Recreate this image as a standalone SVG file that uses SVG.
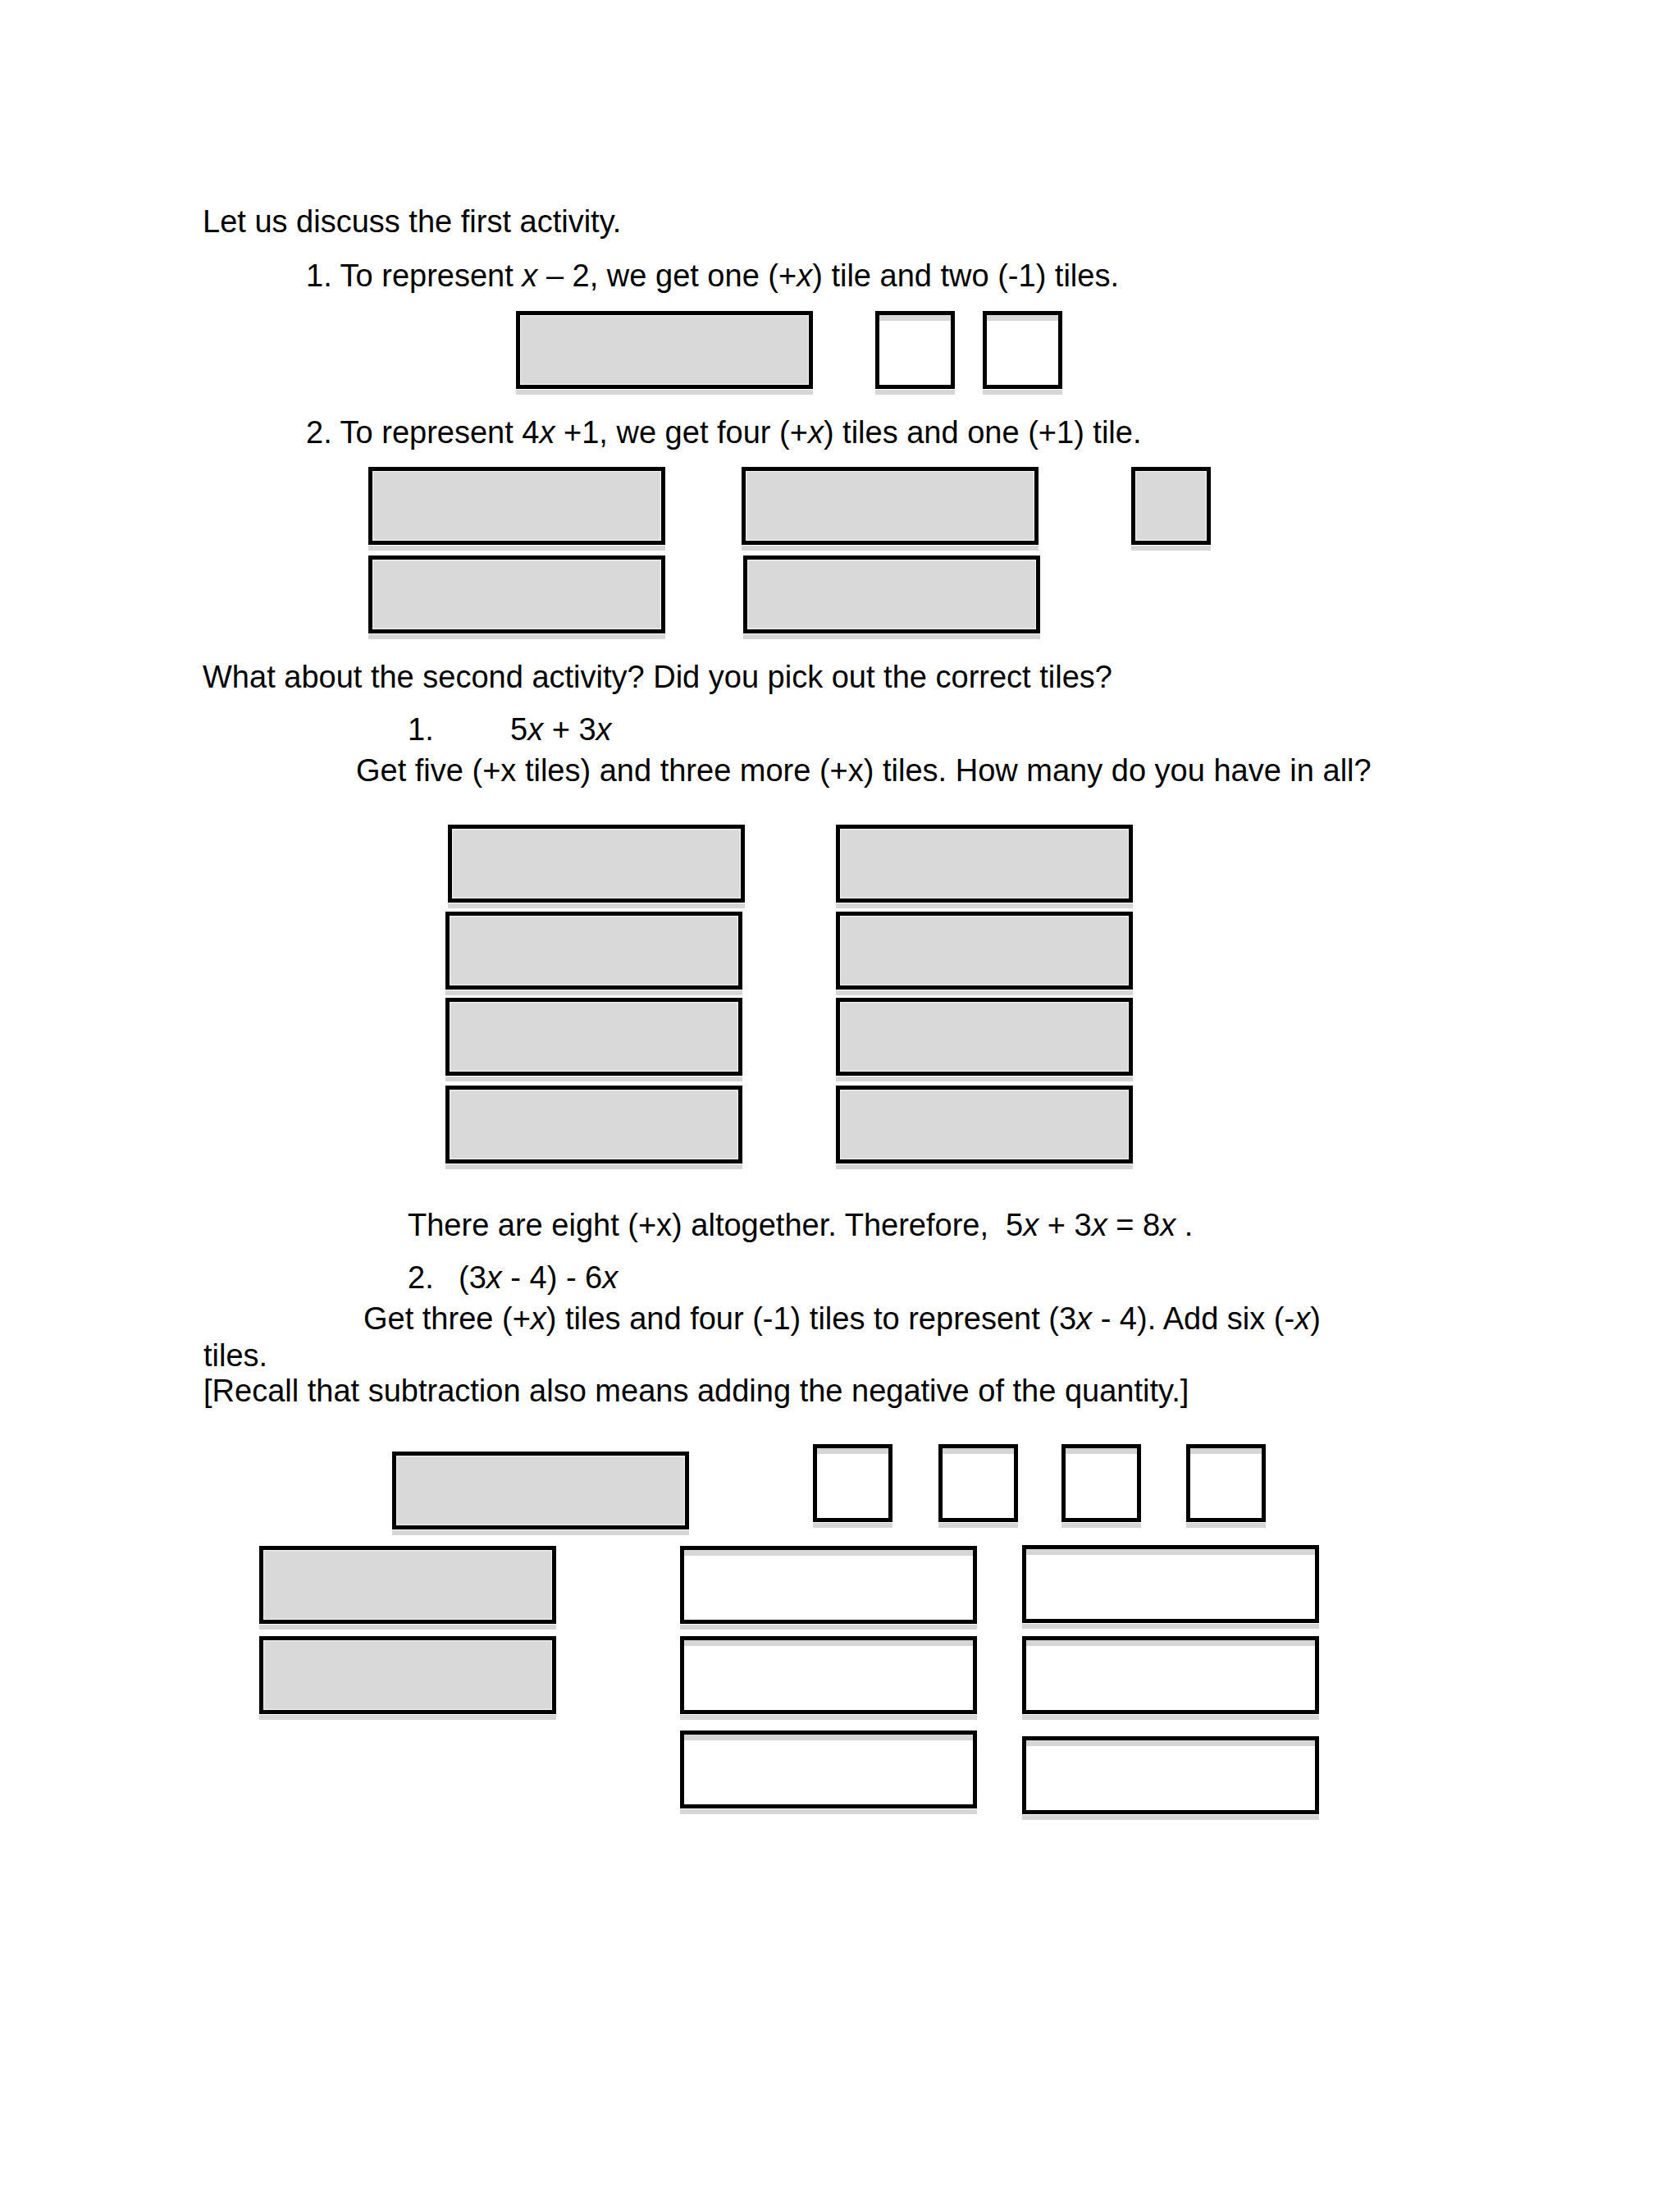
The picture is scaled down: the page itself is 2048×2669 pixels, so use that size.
<svg xmlns="http://www.w3.org/2000/svg" xmlns:xlink="http://www.w3.org/1999/xlink" width="2048" height="2669" viewBox="0 0 2048 2669">
<style>
  .t { font-family: "Liberation Sans", Arial, sans-serif; font-size: 38px; fill: #000; white-space: pre; }
  .i { font-style: italic; }
  .shadow { fill: #d6d6d6; }
  .gray { fill: #d9d9d9; stroke: #000; stroke-width: 5; }
  .white { fill: #fff; stroke: #000; stroke-width: 5; }
  .hl { fill: none; stroke: #f0f0f0; stroke-width: 1.2; }
  .strip { fill: #d6d6d6; }
</style>
<defs>
  <g id="xpos">
    <rect class="shadow" x="0" y="96" width="362" height="6"/>
    <rect class="gray" x="2.5" y="2.5" width="357" height="90"/>
    <rect class="hl" x="5.6" y="5.6" width="350.8" height="83.8"/>
  </g>
  <g id="xneg">
    <rect class="shadow" x="0" y="96" width="362" height="6"/>
    <rect class="white" x="2.5" y="2.5" width="357" height="90"/>
    <rect class="strip" x="5" y="5" width="352" height="7"/>
  </g>
  <g id="onepos">
    <rect class="shadow" x="0" y="96" width="97" height="6"/>
    <rect class="gray" x="2.5" y="2.5" width="92" height="90"/>
    <rect class="hl" x="5.6" y="5.6" width="85.8" height="83.8"/>
  </g>
  <g id="oneneg">
    <rect class="shadow" x="0" y="96" width="97" height="6"/>
    <rect class="white" x="2.5" y="2.5" width="92" height="90"/>
    <rect class="strip" x="5" y="5" width="87" height="7"/>
  </g>
</defs>

<g id="texts">
  <text class="t" x="247" y="283">Let us discuss the first activity.</text>
  <text class="t" x="373" y="349">1. To represent <tspan class="i">x</tspan> – 2, we get one (+<tspan class="i">x</tspan>) tile and two (-1) tiles.</text>
  <text class="t" x="373" y="540">2. To represent 4<tspan class="i">x</tspan> +1, we get four (+<tspan class="i">x</tspan>) tiles and one (+1) tile.</text>
  <text class="t" x="247" y="838">What about the second activity? Did you pick out the correct tiles?</text>
  <text class="t" x="497" y="902">1.</text>
  <text class="t" x="622" y="902">5<tspan class="i">x</tspan> + 3<tspan class="i">x</tspan></text>
  <text class="t" x="434" y="952">Get five (+x tiles) and three more (+x) tiles. How many do you have in all?</text>
  <text class="t" x="497" y="1506">There are eight (+x) altogether. Therefore,  5<tspan class="i">x</tspan> + 3<tspan class="i">x</tspan> = 8<tspan class="i">x</tspan> .</text>
  <text class="t" x="497" y="1570">2.</text>
  <text class="t" x="559" y="1570">(3<tspan class="i">x</tspan> - 4) - 6<tspan class="i">x</tspan></text>
  <text class="t" x="443" y="1620">Get three (+<tspan class="i">x</tspan>) tiles and four (-1) tiles to represent (3<tspan class="i">x</tspan> - 4). Add six (-<tspan class="i">x</tspan>)</text>
  <text class="t" x="248" y="1665">tiles.</text>
  <text class="t" x="248" y="1708">[Recall that subtraction also means adding the negative of the quantity.]</text>
</g>

<g id="connectors"></g>

<g id="activity1-item1">
  <g id="a1-x" transform="translate(629,379)"><use xlink:href="#xpos"/></g>
  <g id="a1-neg1a" transform="translate(1067,379)"><use xlink:href="#oneneg"/></g>
  <g id="a1-neg1b" transform="translate(1198,379)"><use xlink:href="#oneneg"/></g>
</g>

<g id="activity1-item2">
  <g id="a2-x1" transform="translate(449,569)"><use xlink:href="#xpos"/></g>
  <g id="a2-x2" transform="translate(904,569)"><use xlink:href="#xpos"/></g>
  <g id="a2-one" transform="translate(1379,569)"><use xlink:href="#onepos"/></g>
  <g id="a2-x3" transform="translate(449,677)"><use xlink:href="#xpos"/></g>
  <g id="a2-x4" transform="translate(906,677)"><use xlink:href="#xpos"/></g>
</g>

<g id="activity2-item1">
  <g id="b1-x1" transform="translate(546,1005)"><use xlink:href="#xpos"/></g>
  <g id="b1-x2" transform="translate(543,1111)"><use xlink:href="#xpos"/></g>
  <g id="b1-x3" transform="translate(543,1216)"><use xlink:href="#xpos"/></g>
  <g id="b1-x4" transform="translate(543,1323)"><use xlink:href="#xpos"/></g>
  <g id="b1-x5" transform="translate(1019,1005)"><use xlink:href="#xpos"/></g>
  <g id="b1-x6" transform="translate(1019,1111)"><use xlink:href="#xpos"/></g>
  <g id="b1-x7" transform="translate(1019,1216)"><use xlink:href="#xpos"/></g>
  <g id="b1-x8" transform="translate(1019,1323)"><use xlink:href="#xpos"/></g>
</g>

<g id="activity2-item2">
  <g id="b2-x1" transform="translate(478,1769)"><use xlink:href="#xpos"/></g>
  <g id="b2-n1" transform="translate(991,1760)"><use xlink:href="#oneneg"/></g>
  <g id="b2-n2" transform="translate(1144,1760)"><use xlink:href="#oneneg"/></g>
  <g id="b2-n3" transform="translate(1294,1760)"><use xlink:href="#oneneg"/></g>
  <g id="b2-n4" transform="translate(1446,1760)"><use xlink:href="#oneneg"/></g>
  <g id="b2-x2" transform="translate(316,1884)"><use xlink:href="#xpos"/></g>
  <g id="b2-x3" transform="translate(316,1994)"><use xlink:href="#xpos"/></g>
  <g id="b2-nx1" transform="translate(829,1884)"><use xlink:href="#xneg"/></g>
  <g id="b2-nx2" transform="translate(829,1994)"><use xlink:href="#xneg"/></g>
  <g id="b2-nx3" transform="translate(829,2109)"><use xlink:href="#xneg"/></g>
  <g id="b2-nx4" transform="translate(1246,1883)"><use xlink:href="#xneg"/></g>
  <g id="b2-nx5" transform="translate(1246,1994)"><use xlink:href="#xneg"/></g>
  <g id="b2-nx6" transform="translate(1246,2116)"><use xlink:href="#xneg"/></g>
</g>
</svg>
